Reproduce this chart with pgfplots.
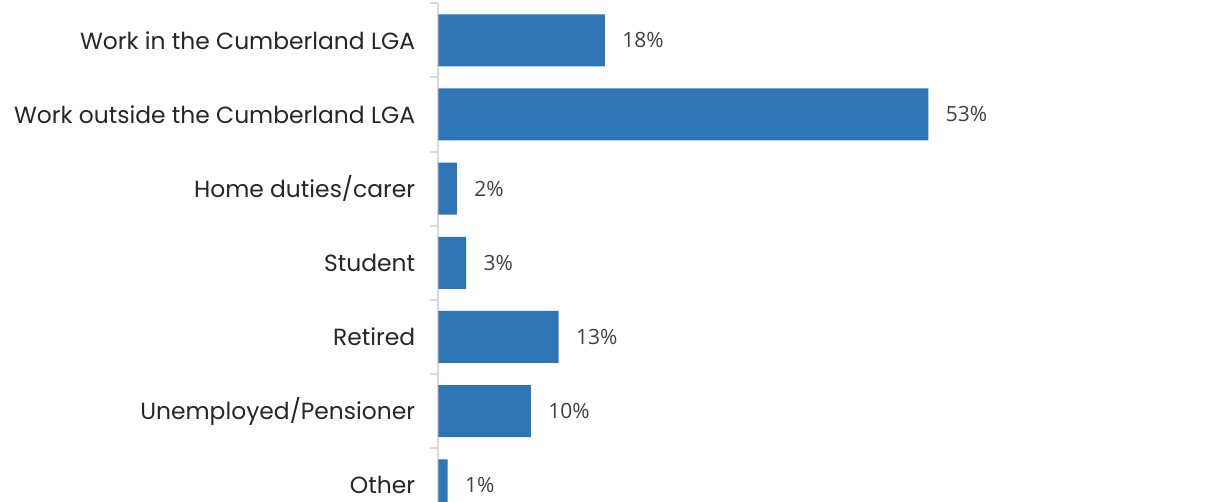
\documentclass[border=0pt]{standalone}
\usepackage{pgfplots}
\pgfplotsset{compat=1.18}
\usepackage{fontspec}
\setmainfont{Poppins}
\newfontfamily\labelfont{Open Sans}
\definecolor{barblue}{HTML}{2E75B6}
\definecolor{axisgray}{HTML}{D9D9D9}
\definecolor{txt}{HTML}{262626}
\definecolor{lbl}{HTML}{404040}

\begin{document}
\begin{tikzpicture}
\begin{axis}[
    x=4.6225pt, y=37.08pt, y dir=reverse,
    xmin=0, xmax=80, ymin=-0.5, ymax=6.5,
    separate axis lines,
    axis x line=none,
    axis y line*=left,
    y axis line style={-, draw=axisgray, line width=1pt},
    xtick=\empty,
    ytick={0,...,6},
    yticklabels={Work in the Cumberland LGA, Work outside the Cumberland LGA,
        Home duties/carer, Student, Retired, Unemployed/Pensioner, Other},
    major tick length=0pt,
    yticklabel style={font=\fontsize{11.7}{13}\selectfont, text=txt,
        anchor=east, inner sep=0pt, xshift=-11.5pt},
    extra y ticks={-0.5,0.5,1.5,2.5,3.5,4.5,5.5,6.5},
    extra y tick labels={},
    extra y tick style={major tick length=4pt, tick align=outside,
        tick style={draw=axisgray, line width=1pt}},
    clip=false,
]
\addplot[xbar, fill=barblue, draw=none, bar width=26pt,
    nodes near coords={\pgfmathprintnumber[assume math mode=true]{\pgfplotspointmeta}\%},
    nodes near coords align={horizontal},
    every node near coord/.append style={font=\labelfont\fontsize{10.5}{12}\selectfont,
        text=lbl, anchor=west, inner sep=0pt, xshift=8.5pt},
] coordinates {
    (18,0)
    (53,1)
    (2,2)
    (3,3)
    (13,4)
    (10,5)
    (1,6)
};
\coordinate (o) at (axis cs:0,0);
\end{axis}
\pgfresetboundingbox
\path[use as bounding box] (o) ++(-219.25pt,20.15pt) rectangle ++(605pt,-251pt);
\end{tikzpicture}
\end{document}
